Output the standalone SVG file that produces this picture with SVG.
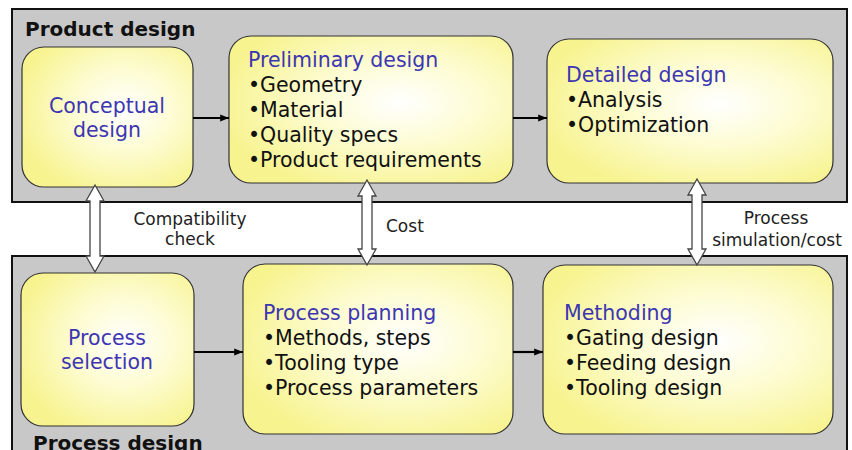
<svg xmlns="http://www.w3.org/2000/svg" width="852" height="450" viewBox="0 0 852 450">
  <defs>
    <radialGradient id="boxFill" cx="0.6" cy="0.45" r="0.65">
      <stop offset="0" stop-color="#ffffff"/>
      <stop offset="0.45" stop-color="#fdfcd2"/>
      <stop offset="1" stop-color="#f7f38e"/>
    </radialGradient>
    <marker id="arrowHead" viewBox="0 0 10 10" refX="10" refY="5" markerWidth="4" markerHeight="4" orient="auto" markerUnits="strokeWidth">
      <path d="M0,1 L10,5 L0,9 z" fill="#000"/>
    </marker>
    <style>
      .panel { fill: #c8c8c8; stroke: #111; stroke-width: 2; }
      .box { fill: url(#boxFill); stroke: #333; stroke-width: 1.2; }
      .head { font-family: "DejaVu Sans", Verdana, sans-serif; font-size: 20.5px; fill: #3c36b2; }
      .item { font-family: "DejaVu Sans", Verdana, sans-serif; font-size: 20.5px; fill: #111; }
      .title { font-family: "DejaVu Sans", Verdana, sans-serif; font-size: 20px; font-weight: bold; fill: #111; }
      .note { font-family: "DejaVu Sans", Verdana, sans-serif; font-size: 17px; fill: #222; }
      .flow { stroke: #000; stroke-width: 2.2; fill: none; marker-end: url(#arrowHead); }
      .link { fill: #fff; stroke: #444; stroke-width: 1.3; }
    </style>
  </defs>

  <rect width="852" height="450" fill="#fff"/>

  <!-- Product design panel -->
  <g id="product-design">
    <rect class="panel" x="12" y="9" width="835" height="193"/>
    <text class="title" x="25" y="36">Product design</text>
  </g>

  <!-- Process design panel -->
  <g id="process-design">
    <rect class="panel" x="12" y="256" width="835" height="210"/>
    <text class="title" x="33" y="450">Process design</text>
  </g>

  <g id="conceptual-design">
    <rect class="box" x="22" y="47" width="171" height="140" rx="22"/>
    <text class="head" x="107" y="113" text-anchor="middle">Conceptual</text>
    <text class="head" x="107" y="137" text-anchor="middle">design</text>
  </g>

  <g id="preliminary-design">
    <rect class="box" x="229" y="36" width="284" height="147" rx="22"/>
    <text class="head" x="248" y="67">Preliminary design</text>
    <text class="item" x="248" y="92">•Geometry</text>
    <text class="item" x="248" y="117">•Material</text>
    <text class="item" x="248" y="142">•Quality specs</text>
    <text class="item" x="248" y="167">•Product requirements</text>
  </g>

  <g id="detailed-design">
    <rect class="box" x="547" y="39" width="286" height="144" rx="22"/>
    <text class="head" x="566" y="82">Detailed design</text>
    <text class="item" x="566" y="107">•Analysis</text>
    <text class="item" x="566" y="132">•Optimization</text>
  </g>

  <g id="process-selection">
    <rect class="box" x="21" y="273" width="173" height="153" rx="22"/>
    <text class="head" x="107" y="345" text-anchor="middle">Process</text>
    <text class="head" x="107" y="369" text-anchor="middle">selection</text>
  </g>

  <g id="process-planning">
    <rect class="box" x="243" y="264" width="270" height="170" rx="22"/>
    <text class="head" x="263" y="320">Process planning</text>
    <text class="item" x="263" y="345">•Methods, steps</text>
    <text class="item" x="263" y="370">•Tooling type</text>
    <text class="item" x="263" y="395">•Process parameters</text>
  </g>

  <g id="methoding">
    <rect class="box" x="543" y="265" width="290" height="169" rx="22"/>
    <text class="head" x="564" y="320">Methoding</text>
    <text class="item" x="564" y="345">•Gating design</text>
    <text class="item" x="564" y="370">•Feeding design</text>
    <text class="item" x="564" y="395">•Tooling design</text>
  </g>

  <!-- connectors -->
  <g id="connectors">
    <line class="flow" x1="193" y1="118" x2="229" y2="118"/>
    <line class="flow" x1="513" y1="118" x2="547" y2="118"/>
    <line class="flow" x1="194" y1="352" x2="243" y2="352"/>
    <line class="flow" x1="513" y1="352" x2="543" y2="352"/>

    <!-- two-way exchange arrows between the panels -->
    <polygon class="link" points="95,185 104,201 100,201 100,256 104,256 95,272 86,256 90,256 90,201 86,201"/>
    <polygon class="link" points="367,180 376,196 372,196 372,249 376,249 367,265 358,249 362,249 362,196 358,196"/>
    <polygon class="link" points="697,179 706,195 702,195 702,249 706,249 697,265 688,249 692,249 692,195 688,195"/>

    <text class="note" x="190" y="225" text-anchor="middle">Compatibility</text>
    <text class="note" x="190" y="245" text-anchor="middle">check</text>
    <text class="note" x="386" y="232">Cost</text>
    <text class="note" x="776" y="224" text-anchor="middle">Process</text>
    <text class="note" x="777" y="246" text-anchor="middle">simulation/cost</text>
  </g>
</svg>
